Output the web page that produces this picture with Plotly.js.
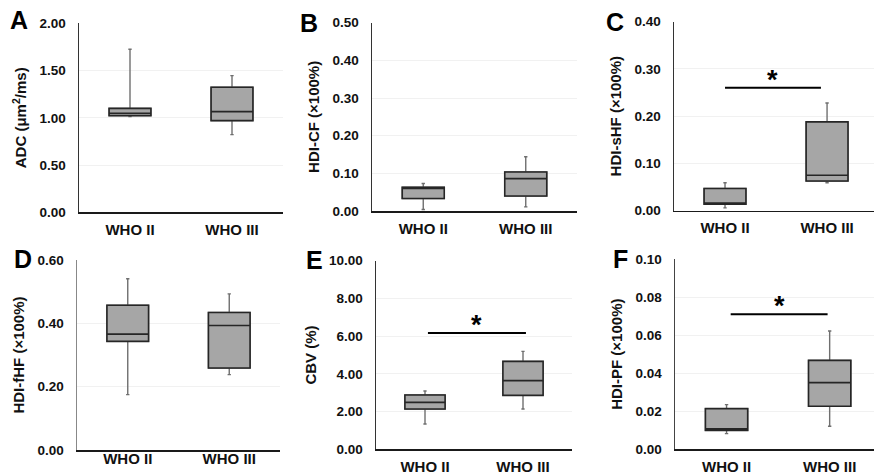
<!DOCTYPE html>
<html>
<head>
<meta charset="utf-8">
<script src="https://cdn.plot.ly/plotly-3.0.1.min.js"></script>
<style>
  html, body { margin: 0; padding: 0; background: #fff; }
  #chart { width: 874px; height: 475px; }
</style>
</head>
<body>
<div id="chart"></div>
<script>
// ---- Data ----
const categories = ['WHO II', 'WHO III'];

// A: ADC (µm²/ms)
const adcMin = [1.012, 0.822];
const adcQ1  = [1.023, 0.970];
const adcMed = [1.048, 1.065];
const adcQ3  = [1.100, 1.323];
const adcMax = [1.725, 1.446];

// B: HDI-CF
const cfMin = [0.004, 0.011];
const cfQ1  = [0.033, 0.040];
const cfMed = [0.060, 0.086];
const cfQ3  = [0.063, 0.1035];
const cfMax = [0.073, 0.144];

// C: HDI-sHF
const shfMin = [0.006, 0.059];
const shfQ1  = [0.014, 0.063];
const shfMed = [0.015, 0.075];
const shfQ3  = [0.047, 0.188];
const shfMax = [0.059, 0.228];

// D: HDI-fHF
const fhfMin = [0.175, 0.238];
const fhfQ1  = [0.343, 0.259];
const fhfMed = [0.366, 0.393];
const fhfQ3  = [0.457, 0.434];
const fhfMax = [0.541, 0.493];

// E: CBV (%)
const cbvMin = [1.34, 2.14];
const cbvQ1  = [2.14, 2.86];
const cbvMed = [2.49, 3.64];
const cbvQ3  = [2.88, 4.66];
const cbvMax = [3.09, 5.19];

// F: HDI-PF
const pfMin = [0.0081, 0.0120];
const pfQ1  = [0.0098, 0.0225];
const pfMed = [0.0107, 0.0350];
const pfQ3  = [0.0213, 0.0467];
const pfMax = [0.0234, 0.0622];

// significance bars (panels C, E, F): y level of bar
const sigLevelC = 0.26;
const sigLevelE = 6.17;
const sigLevelF = 0.071;

// ---- Build ----
const W = 874, H = 475;
const FONT = 'Liberation Sans, Arial, sans-serif';
const px = v => v / W;
const py = v => 1 - v / H;

const panels = [
  {id: '',  letter: 'A', title: 'ADC (μm<sup>2</sup>/ms)', min: adcMin, q1: adcQ1, med: adcMed, q3: adcQ3, max: adcMax,
   xd: [79, 283], yd: [23.3, 212.3], xr: [-0.5, 1.5], yr: [0, 2], dt: 0.5, lx: 19, ly: 20, xso: 3, ylc: '#333'},
  {id: '2', letter: 'B', title: 'HDI-CF (×100%)', min: cfMin, q1: cfQ1, med: cfMed, q3: cfQ3, max: cfMax,
   xd: [372, 577], yd: [22.7, 211], xr: [-0.5, 1.5], yr: [0, 0.5], dt: 0.1, lx: 309, ly: 23, xso: 3, ylc: '#333'},
  {id: '3', letter: 'C', title: 'HDI-sHF (×100%)', min: shfMin, q1: shfQ1, med: shfMed, q3: shfQ3, max: shfMax,
   xd: [674, 874], yd: [21.7, 210.7], xr: [-0.5, 1.46], yr: [0, 0.4], dt: 0.1, lx: 615, ly: 22, xso: 3, ylc: '#333'},
  {id: '4', letter: 'D', title: 'HDI-fHF (×100%)', min: fhfMin, q1: fhfQ1, med: fhfMed, q3: fhfQ3, max: fhfMax,
   xd: [77, 280], yd: [260, 450], xr: [-0.5, 1.5], yr: [0, 0.6], dt: 0.2, lx: 23, ly: 259, xso: -6, ylc: '#888'},
  {id: '5', letter: 'E', title: 'CBV (%)', min: cbvMin, q1: cbvQ1, med: cbvMed, q3: cbvQ3, max: cbvMax,
   xd: [376, 572], yd: [260.7, 449.3], xr: [-0.5, 1.5], yr: [0, 10], dt: 2, lx: 314, ly: 260, xso: 3, ylc: '#333'},
  {id: '6', letter: 'F', title: 'HDI-PF (×100%)', min: pfMin, q1: pfQ1, med: pfMed, q3: pfQ3, max: pfMax,
   xd: [675, 874], yd: [259.3, 449], xr: [-0.5, 1.43], yr: [0, 0.1], dt: 0.02, lx: 620, ly: 259, xso: 3, ylc: '#444'}
];

const traces = [];
const layout = {
  width: W, height: H,
  margin: {l: 0, r: 0, t: 0, b: 0},
  paper_bgcolor: '#ffffff',
  plot_bgcolor: 'rgba(0,0,0,0)',
  showlegend: false,
  boxmode: 'overlay',
  font: {family: FONT, color: '#000'},
  annotations: [],
  shapes: []
};

panels.forEach(p => {
  const xa = 'x' + p.id, ya = 'y' + p.id;
  // whiskers (gray)
  traces.push({
    type: 'box', x: categories, q1: p.q1, median: p.med, q3: p.q3,
    lowerfence: p.min, upperfence: p.max,
    xaxis: xa, yaxis: ya, width: 0.41, whiskerwidth: 0.08,
    fillcolor: '#a6a6a6', line: {color: '#6f6f6f', width: 1.4},
    boxpoints: false, hoverinfo: 'skip'
  });
  // box body (dark outline)
  traces.push({
    type: 'box', x: categories, q1: p.q1, median: p.med, q3: p.q3,
    lowerfence: p.q1, upperfence: p.q3,
    xaxis: xa, yaxis: ya, width: 0.41, whiskerwidth: 0,
    fillcolor: '#a6a6a6', line: {color: '#262626', width: 1.6},
    boxpoints: false, hoverinfo: 'skip'
  });

  const xk = 'xaxis' + p.id, yk = 'yaxis' + p.id;
  layout[xk] = {
    domain: [px(p.xd[0]), px(p.xd[1])], anchor: ya,
    type: 'category', range: p.xr, fixedrange: true,
    showgrid: false, zeroline: false,
    showline: true, linecolor: '#1a1a1a', linewidth: 1.5,
    ticks: '', ticklabelstandoff: p.xso,
    tickfont: {family: FONT, size: 15, weight: 'bold', color: '#111'}
  };
  layout[yk] = {
    domain: [py(p.yd[1]), py(p.yd[0])], anchor: xa,
    range: p.yr, dtick: p.dt, tick0: 0, tickformat: '.2f', fixedrange: true,
    showgrid: true, gridcolor: '#f1f1f1', gridwidth: 1,
    zeroline: false, showline: true, linecolor: p.ylc, linewidth: 1.5,
    ticks: '', ticklabelstandoff: 9,
    tickfont: {family: FONT, size: 13.5, weight: 'bold', color: '#111'},
    title: {text: p.title, standoff: 9, font: {family: FONT, size: 15, weight: 'bold', color: '#111'}}
  };
  layout.annotations.push({
    xref: 'paper', yref: 'paper', x: px(p.lx), y: py(p.ly),
    xanchor: 'center', yanchor: 'middle', showarrow: false,
    text: p.letter, font: {family: FONT, size: 25, weight: 'bold', color: '#000'}
  });
});

// significance bars and stars
const sig = [
  {xa: 'x3', ya: 'y3', x0: 0.0, x1: 0.94, y: sigLevelC},
  {xa: 'x5', ya: 'y5', x0: 0.03, x1: 1.03, y: sigLevelE},
  {xa: 'x6', ya: 'y6', x0: 0.04, x1: 0.98, y: sigLevelF}
];
sig.forEach(s => {
  layout.shapes.push({
    type: 'line', xref: s.xa, yref: s.ya, x0: s.x0, x1: s.x1, y0: s.y, y1: s.y,
    line: {color: '#000', width: 2}
  });
  layout.annotations.push({
    xref: s.xa, yref: s.ya, x: (s.x0 + s.x1) / 2, y: s.y,
    xanchor: 'center', yanchor: 'bottom', yshift: -9, showarrow: false,
    text: '*', font: {family: FONT, size: 27, weight: 'bold', color: '#000'}
  });
});

Plotly.newPlot('chart', traces, layout, {staticPlot: true, displayModeBar: false});
</script>
</body>
</html>
